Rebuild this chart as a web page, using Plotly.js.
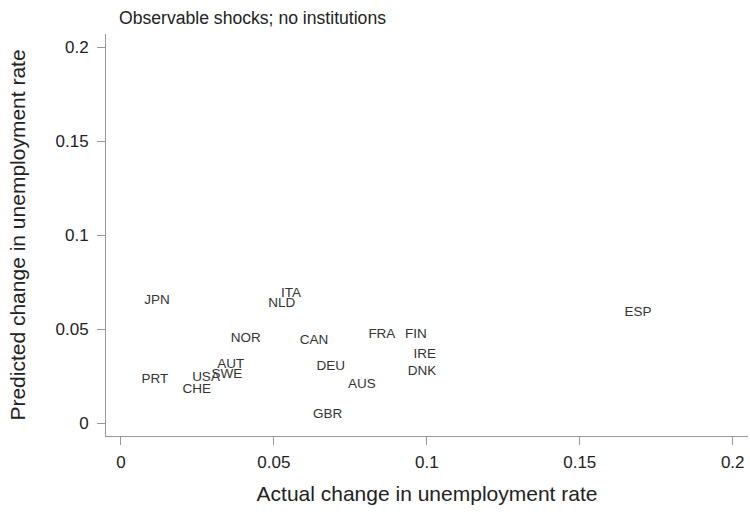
<!DOCTYPE html>
<html>
<head>
<meta charset="utf-8">
<script src="https://cdn.plot.ly/plotly-3.0.1.min.js"></script>
<style>html,body{margin:0;padding:0;background:#fff;}#chart{width:750px;height:512px;}</style>
</head>
<body>
<div id="chart"></div>
<script>
const countries = ["JPN","ITA","NLD","NOR","CAN","AUT","SWE","USA","PRT","CHE","GBR","DEU","AUS","FRA","FIN","IRE","DNK","ESP"];
const actualChange = [0.0118,0.0556,0.0526,0.0408,0.0631,0.0359,0.0346,0.0278,0.0111,0.0248,0.0676,0.0686,0.0788,0.0853,0.0964,0.0993,0.0984,0.169];
const predictedChange = [0.0649,0.0686,0.0638,0.0447,0.0441,0.0309,0.0255,0.0239,0.0229,0.0176,0.0043,0.0298,0.0202,0.0473,0.0468,0.0362,0.0271,0.059];
const tickVals = [0,0.05,0.1,0.15,0.2];
const tickText = ["0","0.05","0.1","0.15","0.2"];

const FONT = "Liberation Sans, Arial, Helvetica, sans-serif";

const trace = {
  type: "scatter",
  mode: "text",
  x: actualChange,
  y: predictedChange,
  text: countries,
  textposition: "middle center",
  textfont: {family: FONT, size: 13.5, color: "#333"},
  hoverinfo: "text"
};

const axisCommon = {
  showgrid: false,
  zeroline: false,
  showline: true,
  linecolor: "#999",
  linewidth: 1,
  ticks: "outside",
  ticklen: 8,
  tickcolor: "#999",
  tickmode: "array",
  tickvals: tickVals,
  ticktext: tickText,
  tickfont: {family: FONT, size: 17, color: "#222"}
};

const layout = {
  width: 750,
  height: 512,
  margin: {l: 106, r: 2, t: 34, b: 76},
  paper_bgcolor: "#fff",
  plot_bgcolor: "#fff",
  showlegend: false,
  title: {
    text: "Observable shocks; no institutions",
    x: 119/750, xanchor: "left", xref: "container",
    y: 1 - 18/512, yanchor: "middle", yref: "container",
    font: {family: FONT, size: 17.6, color: "#222"}
  },
  xaxis: Object.assign({}, axisCommon, {
    range: [-0.0049, 0.205],
    ticklabelstandoff: 3,
    title: {text: "Actual change in unemployment rate", standoff: 14,
            font: {family: FONT, size: 21, color: "#222"}}
  }),
  yaxis: Object.assign({}, axisCommon, {
    range: [-0.0069, 0.207],
    ticklabelstandoff: 5,
    title: {text: "Predicted change in unemployment rate", standoff: 24,
            font: {family: FONT, size: 21, color: "#222"}}
  })
};

Plotly.newPlot("chart", [trace], layout, {displayModeBar: false, staticPlot: true});
</script>
</body>
</html>
